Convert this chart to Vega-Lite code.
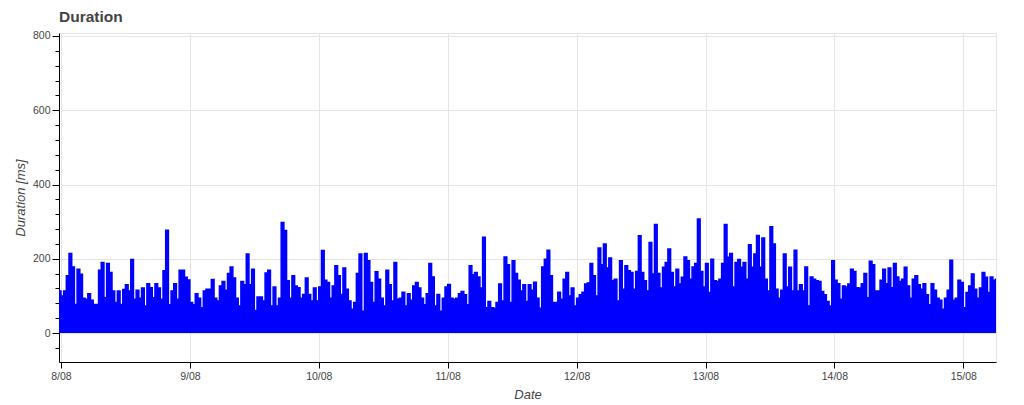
{
  "$schema": "https://vega.github.io/schema/vega-lite/v6.json",
  "autosize": "none",
  "width": 937,
  "height": 329,
  "padding": {"left": 59, "top": 33, "right": 28, "bottom": 43},
  "background": "white",
  "config": {
    "view": {"stroke": "#e5e5e5", "strokeWidth": 1},
    "font": "Liberation Sans",
    "axis": {"labelFont": "Liberation Sans", "titleFont": "Liberation Sans"}
  },
  "title": {"text": "Duration", "anchor": "start", "frame": "group", "fontSize": 15.5, "fontWeight": "bold", "color": "#444444", "font": "Liberation Sans", "offset": 5},
  "data": {"values": [
    {"t":"2023-08-07T23:30","v":113},
    {"t":"2023-08-08T00:00","v":100},{"t":"2023-08-08T00:30","v":113},{"t":"2023-08-08T01:00","v":154},{"t":"2023-08-08T01:30","v":214},{"t":"2023-08-08T02:00","v":178},{"t":"2023-08-08T02:30","v":77},{"t":"2023-08-08T03:00","v":172},{"t":"2023-08-08T03:30","v":158},{"t":"2023-08-08T04:00","v":94},{"t":"2023-08-08T04:30","v":91},{"t":"2023-08-08T05:00","v":106},{"t":"2023-08-08T05:30","v":88},{"t":"2023-08-08T06:00","v":77},{"t":"2023-08-08T06:30","v":77},{"t":"2023-08-08T07:00","v":169},{"t":"2023-08-08T07:30","v":190},{"t":"2023-08-08T08:00","v":95},{"t":"2023-08-08T08:30","v":187},{"t":"2023-08-08T09:00","v":163},{"t":"2023-08-08T09:30","v":113},{"t":"2023-08-08T10:00","v":82},{"t":"2023-08-08T10:30","v":113},{"t":"2023-08-08T11:00","v":77},{"t":"2023-08-08T11:30","v":117},{"t":"2023-08-08T12:00","v":130},{"t":"2023-08-08T12:30","v":113},{"t":"2023-08-08T13:00","v":198},{"t":"2023-08-08T13:30","v":91},{"t":"2023-08-08T14:00","v":115},{"t":"2023-08-08T14:30","v":94},{"t":"2023-08-08T15:00","v":121},{"t":"2023-08-08T15:30","v":73},{"t":"2023-08-08T16:00","v":133},{"t":"2023-08-08T16:30","v":122},{"t":"2023-08-08T17:00","v":95},{"t":"2023-08-08T17:30","v":133},{"t":"2023-08-08T18:00","v":121},{"t":"2023-08-08T18:30","v":91},{"t":"2023-08-08T19:00","v":168},{"t":"2023-08-08T19:30","v":277},{"t":"2023-08-08T20:00","v":76},{"t":"2023-08-08T20:30","v":113},{"t":"2023-08-08T21:00","v":133},{"t":"2023-08-08T21:30","v":91},{"t":"2023-08-08T22:00","v":169},{"t":"2023-08-08T22:30","v":169},{"t":"2023-08-08T23:00","v":150},{"t":"2023-08-08T23:30","v":143},
    {"t":"2023-08-09T00:00","v":82},{"t":"2023-08-09T00:30","v":76},{"t":"2023-08-09T01:00","v":106},{"t":"2023-08-09T01:30","v":94},{"t":"2023-08-09T02:00","v":68},{"t":"2023-08-09T02:30","v":113},{"t":"2023-08-09T03:00","v":118},{"t":"2023-08-09T03:30","v":118},{"t":"2023-08-09T04:00","v":144},{"t":"2023-08-09T04:30","v":94},{"t":"2023-08-09T05:00","v":86},{"t":"2023-08-09T05:30","v":127},{"t":"2023-08-09T06:00","v":139},{"t":"2023-08-09T06:30","v":115},{"t":"2023-08-09T07:00","v":160},{"t":"2023-08-09T07:30","v":178},{"t":"2023-08-09T08:00","v":148},{"t":"2023-08-09T08:30","v":94},{"t":"2023-08-09T09:00","v":73},{"t":"2023-08-09T09:30","v":139},{"t":"2023-08-09T10:00","v":130},{"t":"2023-08-09T10:30","v":213},{"t":"2023-08-09T11:00","v":130},{"t":"2023-08-09T11:30","v":172},{"t":"2023-08-09T12:00","v":61},{"t":"2023-08-09T12:30","v":97},{"t":"2023-08-09T13:00","v":97},{"t":"2023-08-09T13:30","v":86},{"t":"2023-08-09T14:00","v":162},{"t":"2023-08-09T14:30","v":169},{"t":"2023-08-09T15:00","v":73},{"t":"2023-08-09T15:30","v":124},{"t":"2023-08-09T16:00","v":73},{"t":"2023-08-09T16:30","v":94},{"t":"2023-08-09T17:00","v":298},{"t":"2023-08-09T17:30","v":276},{"t":"2023-08-09T18:00","v":141},{"t":"2023-08-09T18:30","v":94},{"t":"2023-08-09T19:00","v":154},{"t":"2023-08-09T19:30","v":127},{"t":"2023-08-09T20:00","v":122},{"t":"2023-08-09T20:30","v":94},{"t":"2023-08-09T21:00","v":104},{"t":"2023-08-09T21:30","v":148},{"t":"2023-08-09T22:00","v":104},{"t":"2023-08-09T22:30","v":86},{"t":"2023-08-09T23:00","v":121},{"t":"2023-08-09T23:30","v":86},
    {"t":"2023-08-10T00:00","v":124},{"t":"2023-08-10T00:30","v":222},{"t":"2023-08-10T01:00","v":142},{"t":"2023-08-10T01:30","v":136},{"t":"2023-08-10T02:00","v":94},{"t":"2023-08-10T02:30","v":127},{"t":"2023-08-10T03:00","v":181},{"t":"2023-08-10T03:30","v":154},{"t":"2023-08-10T04:00","v":104},{"t":"2023-08-10T04:30","v":175},{"t":"2023-08-10T05:00","v":118},{"t":"2023-08-10T05:30","v":86},{"t":"2023-08-10T06:00","v":64},{"t":"2023-08-10T06:30","v":82},{"t":"2023-08-10T07:00","v":160},{"t":"2023-08-10T07:30","v":213},{"t":"2023-08-10T08:00","v":59},{"t":"2023-08-10T08:30","v":214},{"t":"2023-08-10T09:00","v":195},{"t":"2023-08-10T09:30","v":136},{"t":"2023-08-10T10:00","v":82},{"t":"2023-08-10T10:30","v":165},{"t":"2023-08-10T11:00","v":145},{"t":"2023-08-10T11:30","v":94},{"t":"2023-08-10T12:00","v":73},{"t":"2023-08-10T12:30","v":169},{"t":"2023-08-10T13:00","v":130},{"t":"2023-08-10T13:30","v":86},{"t":"2023-08-10T14:00","v":190},{"t":"2023-08-10T14:30","v":91},{"t":"2023-08-10T15:00","v":94},{"t":"2023-08-10T15:30","v":110},{"t":"2023-08-10T16:00","v":73},{"t":"2023-08-10T16:30","v":106},{"t":"2023-08-10T17:00","v":88},{"t":"2023-08-10T17:30","v":127},{"t":"2023-08-10T18:00","v":136},{"t":"2023-08-10T18:30","v":121},{"t":"2023-08-10T19:00","v":94},{"t":"2023-08-10T19:30","v":76},{"t":"2023-08-10T20:00","v":106},{"t":"2023-08-10T20:30","v":187},{"t":"2023-08-10T21:00","v":151},{"t":"2023-08-10T21:30","v":73},{"t":"2023-08-10T22:00","v":104},{"t":"2023-08-10T22:30","v":59},{"t":"2023-08-10T23:00","v":94},{"t":"2023-08-10T23:30","v":124},
    {"t":"2023-08-11T00:00","v":131},{"t":"2023-08-11T00:30","v":94},{"t":"2023-08-11T01:00","v":91},{"t":"2023-08-11T01:30","v":94},{"t":"2023-08-11T02:00","v":106},{"t":"2023-08-11T02:30","v":112},{"t":"2023-08-11T03:00","v":103},{"t":"2023-08-11T03:30","v":76},{"t":"2023-08-11T04:00","v":181},{"t":"2023-08-11T04:30","v":157},{"t":"2023-08-11T05:00","v":163},{"t":"2023-08-11T05:30","v":151},{"t":"2023-08-11T06:00","v":121},{"t":"2023-08-11T06:30","v":258},{"t":"2023-08-11T07:00","v":68},{"t":"2023-08-11T07:30","v":85},{"t":"2023-08-11T08:00","v":68},{"t":"2023-08-11T08:30","v":67},{"t":"2023-08-11T09:00","v":82},{"t":"2023-08-11T09:30","v":132},{"t":"2023-08-11T10:00","v":86},{"t":"2023-08-11T10:30","v":205},{"t":"2023-08-11T11:00","v":184},{"t":"2023-08-11T11:30","v":82},{"t":"2023-08-11T12:00","v":195},{"t":"2023-08-11T12:30","v":160},{"t":"2023-08-11T13:00","v":142},{"t":"2023-08-11T13:30","v":113},{"t":"2023-08-11T14:00","v":130},{"t":"2023-08-11T14:30","v":85},{"t":"2023-08-11T15:00","v":130},{"t":"2023-08-11T15:30","v":115},{"t":"2023-08-11T16:00","v":137},{"t":"2023-08-11T16:30","v":94},{"t":"2023-08-11T17:00","v":67},{"t":"2023-08-11T17:30","v":178},{"t":"2023-08-11T18:00","v":199},{"t":"2023-08-11T18:30","v":223},{"t":"2023-08-11T19:00","v":154},{"t":"2023-08-11T19:30","v":82},{"t":"2023-08-11T20:00","v":82},{"t":"2023-08-11T20:30","v":110},{"t":"2023-08-11T21:00","v":91},{"t":"2023-08-11T21:30","v":145},{"t":"2023-08-11T22:00","v":163},{"t":"2023-08-11T22:30","v":100},{"t":"2023-08-11T23:00","v":121},{"t":"2023-08-11T23:30","v":73},
    {"t":"2023-08-12T00:00","v":94},{"t":"2023-08-12T00:30","v":103},{"t":"2023-08-12T01:00","v":110},{"t":"2023-08-12T01:30","v":132},{"t":"2023-08-12T02:00","v":135},{"t":"2023-08-12T02:30","v":187},{"t":"2023-08-12T03:00","v":154},{"t":"2023-08-12T03:30","v":100},{"t":"2023-08-12T04:00","v":229},{"t":"2023-08-12T04:30","v":184},{"t":"2023-08-12T05:00","v":240},{"t":"2023-08-12T05:30","v":175},{"t":"2023-08-12T06:00","v":202},{"t":"2023-08-12T06:30","v":141},{"t":"2023-08-12T07:00","v":145},{"t":"2023-08-12T07:30","v":86},{"t":"2023-08-12T08:00","v":195},{"t":"2023-08-12T08:30","v":118},{"t":"2023-08-12T09:00","v":181},{"t":"2023-08-12T09:30","v":168},{"t":"2023-08-12T10:00","v":163},{"t":"2023-08-12T10:30","v":118},{"t":"2023-08-12T11:00","v":166},{"t":"2023-08-12T11:30","v":262},{"t":"2023-08-12T12:00","v":163},{"t":"2023-08-12T12:30","v":141},{"t":"2023-08-12T13:00","v":113},{"t":"2023-08-12T13:30","v":244},{"t":"2023-08-12T14:00","v":159},{"t":"2023-08-12T14:30","v":292},{"t":"2023-08-12T15:00","v":160},{"t":"2023-08-12T15:30","v":121},{"t":"2023-08-12T16:00","v":177},{"t":"2023-08-12T16:30","v":190},{"t":"2023-08-12T17:00","v":226},{"t":"2023-08-12T17:30","v":163},{"t":"2023-08-12T18:00","v":124},{"t":"2023-08-12T18:30","v":172},{"t":"2023-08-12T19:00","v":132},{"t":"2023-08-12T19:30","v":150},{"t":"2023-08-12T20:00","v":205},{"t":"2023-08-12T20:30","v":195},{"t":"2023-08-12T21:00","v":145},{"t":"2023-08-12T21:30","v":178},{"t":"2023-08-12T22:00","v":187},{"t":"2023-08-12T22:30","v":307},{"t":"2023-08-12T23:00","v":166},{"t":"2023-08-12T23:30","v":124},
    {"t":"2023-08-13T00:00","v":187},{"t":"2023-08-13T00:30","v":109},{"t":"2023-08-13T01:00","v":199},{"t":"2023-08-13T01:30","v":141},{"t":"2023-08-13T02:00","v":139},{"t":"2023-08-13T02:30","v":145},{"t":"2023-08-13T03:00","v":187},{"t":"2023-08-13T03:30","v":292},{"t":"2023-08-13T04:00","v":204},{"t":"2023-08-13T04:30","v":214},{"t":"2023-08-13T05:00","v":124},{"t":"2023-08-13T05:30","v":190},{"t":"2023-08-13T06:00","v":198},{"t":"2023-08-13T06:30","v":177},{"t":"2023-08-13T07:00","v":190},{"t":"2023-08-13T07:30","v":145},{"t":"2023-08-13T08:00","v":238},{"t":"2023-08-13T08:30","v":177},{"t":"2023-08-13T09:00","v":213},{"t":"2023-08-13T09:30","v":263},{"t":"2023-08-13T10:00","v":177},{"t":"2023-08-13T10:30","v":256},{"t":"2023-08-13T11:00","v":145},{"t":"2023-08-13T11:30","v":113},{"t":"2023-08-13T12:00","v":286},{"t":"2023-08-13T12:30","v":240},{"t":"2023-08-13T13:00","v":118},{"t":"2023-08-13T13:30","v":94},{"t":"2023-08-13T14:00","v":115},{"t":"2023-08-13T14:30","v":213},{"t":"2023-08-13T15:00","v":124},{"t":"2023-08-13T15:30","v":177},{"t":"2023-08-13T16:00","v":113},{"t":"2023-08-13T16:30","v":223},{"t":"2023-08-13T17:00","v":113},{"t":"2023-08-13T17:30","v":130},{"t":"2023-08-13T18:00","v":113},{"t":"2023-08-13T18:30","v":178},{"t":"2023-08-13T19:00","v":73},{"t":"2023-08-13T19:30","v":151},{"t":"2023-08-13T20:00","v":145},{"t":"2023-08-13T20:30","v":141},{"t":"2023-08-13T21:00","v":139},{"t":"2023-08-13T21:30","v":112},{"t":"2023-08-13T22:00","v":103},{"t":"2023-08-13T22:30","v":85},{"t":"2023-08-13T23:00","v":73},{"t":"2023-08-13T23:30","v":195},
    {"t":"2023-08-14T00:00","v":142},{"t":"2023-08-14T00:30","v":133},{"t":"2023-08-14T01:00","v":91},{"t":"2023-08-14T01:30","v":127},{"t":"2023-08-14T02:00","v":124},{"t":"2023-08-14T02:30","v":132},{"t":"2023-08-14T03:00","v":172},{"t":"2023-08-14T03:30","v":166},{"t":"2023-08-14T04:00","v":122},{"t":"2023-08-14T04:30","v":121},{"t":"2023-08-14T05:00","v":133},{"t":"2023-08-14T05:30","v":160},{"t":"2023-08-14T06:00","v":95},{"t":"2023-08-14T06:30","v":193},{"t":"2023-08-14T07:00","v":184},{"t":"2023-08-14T07:30","v":113},{"t":"2023-08-14T08:00","v":113},{"t":"2023-08-14T08:30","v":142},{"t":"2023-08-14T09:00","v":172},{"t":"2023-08-14T09:30","v":133},{"t":"2023-08-14T10:00","v":175},{"t":"2023-08-14T10:30","v":122},{"t":"2023-08-14T11:00","v":187},{"t":"2023-08-14T11:30","v":151},{"t":"2023-08-14T12:00","v":139},{"t":"2023-08-14T12:30","v":145},{"t":"2023-08-14T13:00","v":177},{"t":"2023-08-14T13:30","v":127},{"t":"2023-08-14T14:00","v":94},{"t":"2023-08-14T14:30","v":145},{"t":"2023-08-14T15:00","v":154},{"t":"2023-08-14T15:30","v":130},{"t":"2023-08-14T16:00","v":118},{"t":"2023-08-14T16:30","v":133},{"t":"2023-08-14T17:00","v":103},{"t":"2023-08-14T17:30","v":76},{"t":"2023-08-14T18:00","v":133},{"t":"2023-08-14T18:30","v":115},{"t":"2023-08-14T19:00","v":94},{"t":"2023-08-14T19:30","v":88},{"t":"2023-08-14T20:00","v":64},{"t":"2023-08-14T20:30","v":94},{"t":"2023-08-14T21:00","v":115},{"t":"2023-08-14T21:30","v":196},{"t":"2023-08-14T22:00","v":88},{"t":"2023-08-14T22:30","v":94},{"t":"2023-08-14T23:00","v":142},{"t":"2023-08-14T23:30","v":136},
    {"t":"2023-08-15T00:00","v":68},{"t":"2023-08-15T00:30","v":109},{"t":"2023-08-15T01:00","v":127},{"t":"2023-08-15T01:30","v":159},{"t":"2023-08-15T02:00","v":118},{"t":"2023-08-15T02:30","v":94},{"t":"2023-08-15T03:00","v":121},{"t":"2023-08-15T03:30","v":163},{"t":"2023-08-15T04:00","v":150},{"t":"2023-08-15T04:30","v":109},{"t":"2023-08-15T05:00","v":151},{"t":"2023-08-15T05:30","v":142},{"t":"2023-08-15T06:00","v":145},{"t":"2023-08-15T06:30","v":145}
  ]},
  "mark": {"type": "area", "interpolate": "step-after", "color": "#0000ff", "fillOpacity": 1, "opacity": 1, "clip": true, "line": {"color": "#0000ff", "strokeWidth": 1.5}},
  "encoding": {
    "x": {
      "field": "t", "type": "temporal",
      "scale": {"domain": [{"year": 2023, "month": 8, "date": 7, "hours": 23, "minutes": 38}, {"year": 2023, "month": 8, "date": 15, "hours": 6, "minutes": 5}]},
      "axis": {
        "title": "Date",
        "values": [
          {"year": 2023, "month": 8, "date": 8}, {"year": 2023, "month": 8, "date": 9}, {"year": 2023, "month": 8, "date": 10}, {"year": 2023, "month": 8, "date": 11},
          {"year": 2023, "month": 8, "date": 12}, {"year": 2023, "month": 8, "date": 13}, {"year": 2023, "month": 8, "date": 14}, {"year": 2023, "month": 8, "date": 15}
        ],
        "format": "%-d/%m",
        "domainColor": "#000000", "domainWidth": 1,
        "tickColor": "#000000", "tickSize": 6,
        "labelFontSize": 10.5, "labelColor": "#444444", "labelPadding": 3,
        "gridColor": "#e5e5e5",
        "titleFontSize": 13, "titleFontStyle": "italic", "titleFontWeight": "normal", "titleColor": "#444444", "titlePadding": 7
      }
    },
    "y": {
      "field": "v", "type": "quantitative",
      "scale": {"domain": [-78, 808], "nice": false, "zero": false},
      "axis": {
        "title": "Duration [ms]",
        "values": [-40, 0, 40, 80, 120, 160, 200, 240, 280, 320, 360, 400, 440, 480, 520, 560, 600, 640, 680, 720, 760, 800],
        "labelExpr": "datum.value % 200 === 0 ? datum.label : ''",
        "format": "d",
        "domainColor": "#000000", "domainWidth": 1,
        "tickColor": "#000000",
        "tickSize": {"condition": {"test": "datum.value % 200 === 0", "value": 7}, "value": 4},
        "gridOpacity": {"condition": {"test": "datum.value % 200 === 0", "value": 1}, "value": 0},
        "gridColor": "#e5e5e5",
        "labelFontSize": 10.5, "labelColor": "#444444", "labelPadding": 2,
        "titleFontSize": 13, "titleFontStyle": "italic", "titleFontWeight": "normal", "titleColor": "#444444", "titlePadding": 5
      }
    },
    "y2": {"datum": 0}
  }
}
